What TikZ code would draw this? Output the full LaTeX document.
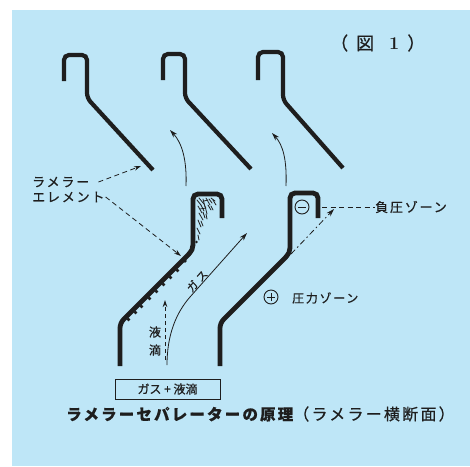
\documentclass[tikz,border=0pt]{standalone}
\usepackage{fontspec}
\usetikzlibrary{arrows.meta}
\newfontfamily\jp{Noto Sans CJK JP}[LetterSpace=14,FakeBold=0.6]
\newfontfamily\jpn{Noto Sans CJK JP}[FakeBold=0.6]
\definecolor{paper}{RGB}{190,230,247}
\definecolor{ink}{RGB}{30,30,30}

\begin{document}
\begin{tikzpicture}[x=1pt,y=-1pt,
  blade/.style={draw=ink,line width=4.2pt,rounded corners=5pt},
  vane/.style={draw=ink,line width=4.8pt,rounded corners=5pt},
  tip/.style={-{Stealth[length=8pt,width=5pt]}},
  flow/.style={draw=ink,line width=0.8pt,tip},
  lead/.style={draw=ink,line width=0.8pt,dash pattern=on 5pt off 3.5pt},
  lbl/.style={font=\fontsize{13}{15}\jp,text=ink,inner sep=0pt},
  sign/.style={circle,draw=ink,line width=0.9pt,minimum size=14pt,inner sep=0pt},
  drop/.style={fill=ink,draw=none}
]
% page and tinted panel
\useasboundingbox (0,0) rectangle (470,466);
\fill[white] (0,0) rectangle (470,466);
\fill[paper] (12,10) rectangle (470,466);

% upper row of lamellae
\draw[blade] (64,81) -- (64,55) -- (87,55) -- (87,98) -- (153,170);
\draw[blade] (163,80) -- (163,54) -- (185,54) -- (185,98) -- (251,169);
\draw[blade] (258,80) -- (258,52) -- (283,52) -- (283,100) -- (343,168);

% lower row of lamellae
\draw[vane] (120,366) -- (120,323) -- (181,262) .. controls (193,250) .. (193,234)
  -- (193,194) -- (222,194) -- (222,218);
\draw[vane] (220,366) -- (220,323) -- (278,265) .. controls (290,253) .. (290,237)
  -- (290,193) -- (318,193) -- (318,218);

% collected liquid inside the left lamella
\begin{scope}[draw=ink,line width=0.8pt,line cap=round]
  \draw (197,200) -- (201,205); \draw (199,198) -- (204,204);
  \draw (203,199) -- (205,207); \draw (206,198) -- (210,205);
  \draw (209,199) -- (212,203); \draw (211,198) -- (215,201);
  \draw (213,200) -- (216,205); \draw (198,206) -- (202,213);
  \draw (201,205) -- (204,211); \draw (205,206) -- (207,214);
  \draw (208,205) -- (211,210); \draw (211,206) -- (213,210);
  \draw (199,213) -- (203,220); \draw (203,212) -- (205,218);
  \draw (206,214) -- (207,219); \draw (198,220) -- (201,227);
  \draw (201,221) -- (203,226); \draw (197,228) -- (200,234);
  \draw (198,235) -- (199,240); \draw (204,201) -- (208,200);
  \draw (200,209) -- (206,208);
\end{scope}
\foreach \px/\py in {128.5/319.5,135.5/312.5,141.5/306.5,149.5/298.5,
                     156.5/291.5,163.5/284.5,170.5/277.5,177.5/270.5,185/261}
  \fill[drop] (\px,\py) circle (1.9pt);
\fill[drop] (196.5,242) circle (1.4pt);

% gas flow between the upper lamellae
\coordinate (f1a) at (186,186); \coordinate (f1b) at (170,130);
\coordinate (f2a) at (286,186); \coordinate (f2b) at (272,133);
\draw[flow] (f1a) .. controls (187,160) and (182,143) .. (f1b);
\draw[flow] (f2a) .. controls (287,160) and (283,145) .. (f2b);

% gas and droplet paths in the lower channel
\coordinate (gIn) at (167,365); \coordinate (gOut) at (247,233);
\draw[flow] (gIn) .. controls (167,335) and (176,313) .. (190,297) -- (gOut);
\coordinate (dIn) at (165,360); \coordinate (dOut) at (165,300);
\draw[draw=ink,line width=0.8pt,dash pattern=on 4pt off 3pt,-{Stealth[length=7pt,width=4.5pt]}] (dIn) -- (dOut);
\node[lbl,font=\fontsize{11}{13}\jpn,rotate=48] (gas) at (197,281) {ガ\hspace{3pt}ス};
\node[lbl,font=\fontsize{12}{14}\jpn] (liq1) at (155,332) {液};
\node[lbl,font=\fontsize{12}{14}\jpn] (liq2) at (155,350) {滴};

% element labels
\node[lbl,anchor=west] (lamA) at (32,182) {ラメラー};
\node[lbl,anchor=west] (lamB) at (32,197) {エレメント};
\coordinate (h1tip) at (141,166);
\coordinate (e1tip) at (181,256);
\draw[lead,-{Stealth[length=7pt,width=4.5pt]}] ([xshift=9pt]lamA.east) -- (h1tip);
\draw[lead,-{Stealth[length=7pt,width=4.5pt]}] ([xshift=1pt]lamB.east) -- (e1tip);

% pressure zones
\node[sign] (neg) at (302,207) {};
\draw[ink,line width=1pt] ([xshift=-4pt]neg.center) -- ([xshift=4pt]neg.center);
\coordinate (negS) at (322,207);
\node[lbl,anchor=west] (negZ) at (375,207) {負圧ゾーン};
\draw[lead] (negS) -- (negZ.west);
\coordinate (pA) at (291,254); \coordinate (pB) at (334,209);
\draw[draw=ink,line width=0.8pt,dash pattern=on 6pt off 3pt on 1.5pt off 3pt,
  -{Stealth[length=8pt,width=5pt]}] (pA) -- (pB);
\node[sign] (pos) at (271,297) {};
\draw[ink,line width=1pt] ([xshift=-4pt]pos.center) -- ([xshift=4pt]pos.center);
\draw[ink,line width=1pt] ([yshift=-4pt]pos.center) -- ([yshift=4pt]pos.center);
\node[lbl,font=\fontsize{12}{14}\jp,anchor=west] (posZ) at (292,298) {圧力ゾーン};

% inlet box
\node[draw=ink,line width=0.9pt,minimum width=105pt,minimum height=20pt,inner sep=0pt,
  font=\fontsize{12}{14}\jpn,text=ink] (mix) at (167.5,389) {ガス + 液滴};

% caption and figure number
\node[anchor=west,inner sep=0pt,text=ink] (cap) at (66,414)
  {{\fontsize{15.5}{17}\jp\bfseries ラメラーセパレーターの原理}{\fontsize{16}{18}\jp （ラメラー横断面）}};
\node[anchor=west,inner sep=0pt,text=ink,font=\fontsize{18}{20}\jpn] (fig) at (330,43)
  {（\hspace{8pt}図\hspace{15pt}{\rmfamily\bfseries 1}\hspace{8pt}）};
\end{tikzpicture}
\end{document}
